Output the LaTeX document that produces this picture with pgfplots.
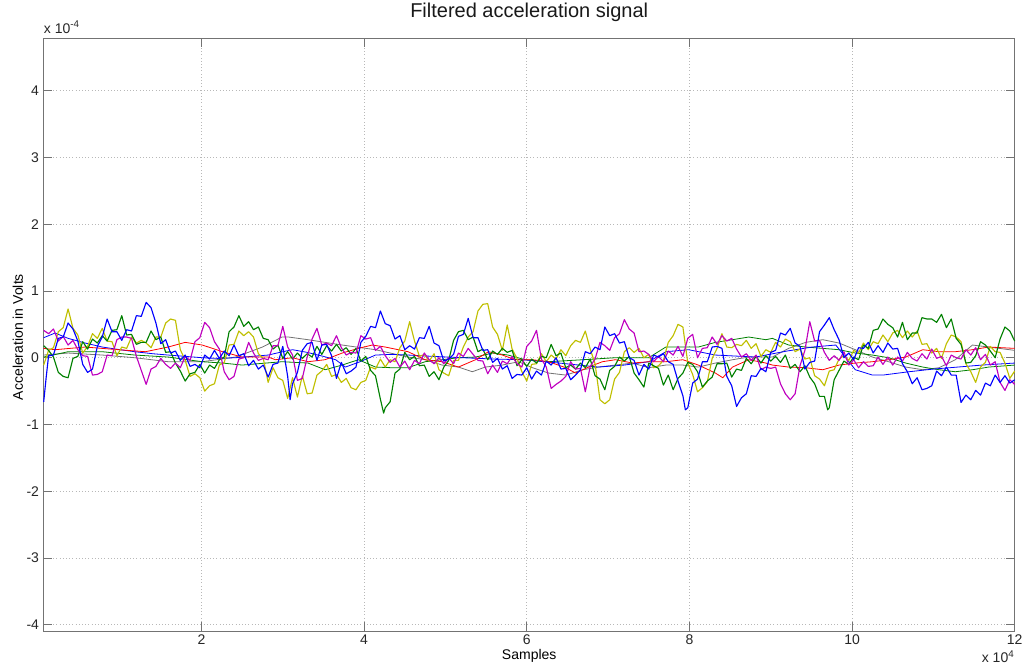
\documentclass[border=0pt]{standalone}
\usepackage{fontspec}
\setmainfont{Liberation Sans}
\usepackage{pgfplots}
\pgfplotsset{compat=1.18}

\definecolor{mblue}{rgb}{0,0,1}
\definecolor{mgreen}{rgb}{0,0.5,0}
\definecolor{mred}{rgb}{1,0,0}
\definecolor{mmag}{rgb}{0.75,0,0.75}
\definecolor{myel}{rgb}{0.75,0.75,0}
\definecolor{mgray}{rgb}{0.45,0.45,0.45}
\definecolor{axgray}{rgb}{0.45,0.45,0.45}

\newcommand{\tickfont}{\fontsize{10.5pt}{12pt}\selectfont}

\begin{document}
\begin{tikzpicture}[x=0.75pt,y=0.75pt]
\path[use as bounding box] (-43.7,-39) rectangle (978.3,631);
\begin{axis}[
  at={(0,0)}, anchor=south west,
  width=728.25pt, height=444.5pt, scale only axis,
  clip=false,
  xmin=0.06, xmax=12, ymin=-4.094, ymax=4.785,
  xtick={2,4,6,8,10,12}, ytick={-4,-3,-2,-1,0,1,2,3,4},
  /pgf/number format/assume math mode=true,
  ticklabel style={font=\tickfont, text=black!85},
  grid=major,
  major grid style={dotted, line width=0.5pt, black!28},
  axis line style={axgray, line width=0.6pt},
  tick style={axgray, line width=0.6pt},
  tick align=inside, major tick length=6.5pt,
  xticklabel style={yshift=1pt},
  title={Filtered acceleration signal},
  title style={at={(axis description cs:0.5,1.0208)}, anchor=base, font=\fontsize{15pt}{17pt}\selectfont, text=black!90},
  xlabel={Samples},
  xlabel style={at={(axis description cs:0.5,-0.0489)}, anchor=base, font=\tickfont},
  ylabel={Acceleration in Volts},
  ylabel style={at={(axis description cs:-0.0265,0.496)}, anchor=center, font=\tickfont},
  every axis plot/.append style={line width=0.85pt, line join=round},
  slow/.style={line width=0.6pt},
]

% slowly varying channels
\addplot[mgray, slow] coordinates {
(0.06,0.04)(0.36,0.07)(0.78,0.04)(1.18,0.00)(1.59,-0.06)(2.01,-0.06)(2.42,0.01)(2.75,0.16)(2.99,0.31)(3.07,0.31)
(3.31,0.27)(3.73,0.19)(4.14,0.12)(4.54,0.01)(4.75,-0.03)(4.96,-0.11)(5.16,-0.14)(5.33,-0.21)(5.49,-0.14)(5.70,-0.11)
(5.90,-0.06)(6.07,-0.15)(6.27,-0.23)(6.48,-0.26)(6.69,-0.18)(6.88,-0.14)(7.09,-0.11)(7.30,-0.08)(7.50,-0.15)(7.71,-0.11)
(7.92,-0.11)(8.11,-0.14)(8.32,-0.08)(8.53,-0.03)(8.73,0.01)(9.02,0.01)(9.22,0.14)(9.43,0.23)(9.64,0.27)(9.84,0.22)
(10.04,0.12)(10.25,0.01)(10.45,-0.06)(10.66,-0.14)(10.87,-0.18)(11.07,-0.15)(11.27,-0.03)(11.48,0.19)(11.68,0.16)(12.00,0.11)
};
\addplot[mgreen, slow] coordinates {
(0.06,0.01)(0.36,0.09)(0.78,0.09)(1.18,0.04)(1.59,0.01)(2.01,-0.06)(2.26,-0.08)(2.50,-0.11)(2.99,-0.06)(3.31,-0.08)
(3.52,-0.18)(3.73,-0.11)(3.93,-0.03)(4.14,-0.14)(4.34,-0.15)(4.54,-0.15)(4.75,-0.06)(4.96,-0.03)(5.16,0.00)(5.37,0.01)
(5.58,0.07)(5.77,0.04)(5.98,-0.03)(6.27,-0.06)(6.69,-0.03)(7.09,0.00)(7.50,0.00)(7.71,0.16)(7.92,0.16)(8.11,0.16)
(8.32,0.23)(8.53,0.27)(8.73,0.31)(8.94,0.27)(9.02,0.29)(9.22,0.19)(9.43,0.16)(9.64,0.14)(9.84,0.12)(10.04,0.07)
(10.25,0.04)(10.45,0.00)(10.66,-0.08)(10.87,-0.14)(11.07,-0.18)(11.27,-0.21)(11.48,-0.18)(11.68,-0.14)(12.00,-0.11)
};
\addplot[mblue, slow] coordinates {
(0.06,0.30)(0.20,0.37)(0.36,0.29)(0.57,0.22)(0.78,0.16)(1.00,0.12)(1.18,0.09)(1.40,0.06)(1.59,0.04)(1.80,0.02)
(2.01,0.00)(2.20,-0.01)(2.42,0.00)(2.62,0.02)(2.82,0.04)(3.00,0.09)(3.12,0.12)(3.30,0.08)(3.50,0.02)(3.65,-0.03)
(3.77,-0.14)(3.95,-0.06)(4.14,0.04)(4.35,0.05)(4.54,0.04)(4.85,0.02)(5.21,0.00)(5.60,-0.02)(5.95,-0.03)(6.40,-0.08)
(6.88,-0.14)(7.20,-0.11)(7.50,-0.06)(7.71,0.09)(7.99,0.12)(8.32,0.04)(8.81,0.01)(9.20,0.10)(9.51,0.16)(9.80,0.19)
(10.04,-0.18)(10.25,-0.26)(10.38,-0.26)(10.70,-0.21)(11.00,-0.17)(11.30,-0.14)(11.60,-0.11)(12.00,-0.08)
};
\addplot[mred, slow] coordinates {
(0.06,0.14)(0.20,0.12)(0.57,0.16)(0.98,0.12)(1.31,0.09)(1.59,0.16)(1.80,0.23)(2.01,0.19)(2.26,0.09)(2.50,0.01)
(2.82,0.01)(2.91,-0.03)(3.12,0.00)(3.31,-0.06)(3.52,-0.03)(3.73,0.07)(3.93,0.14)(4.10,0.19)(4.26,0.16)(4.42,0.12)
(4.54,0.09)(4.75,-0.03)(4.96,-0.06)(5.16,-0.14)(5.37,-0.03)(5.53,0.09)(5.70,0.04)(5.86,-0.03)(6.07,-0.03)(6.27,-0.06)
(6.48,-0.15)(6.60,-0.23)(6.76,-0.14)(6.93,-0.06)(7.09,-0.03)(7.30,-0.08)(7.50,-0.06)(7.71,-0.06)(7.92,-0.03)(8.11,-0.11)
(8.32,-0.23)(8.41,-0.30)(8.53,-0.14)(8.73,-0.03)(8.94,-0.08)(9.02,-0.11)(9.22,-0.14)(9.43,-0.15)(9.64,-0.18)(9.84,-0.11)
(10.04,-0.08)(10.25,-0.06)(10.45,-0.03)(10.66,0.01)(10.87,0.12)(11.07,0.09)(11.27,0.09)(11.48,0.12)(11.68,0.16)(12.00,0.14)
};

% fast channels
\addplot[myel] coordinates {
(0.06,-0.11)(0.12,0.11)(0.18,0.15)(0.24,0.39)(0.30,0.45)(0.36,0.73)(0.42,0.44)(0.48,0.34)(0.54,0.07)(0.60,0.17)
(0.66,0.36)(0.72,0.29)(0.78,0.44)(0.84,0.25)(0.90,0.24)(0.96,0.03)(1.02,0.16)(1.08,0.14)(1.14,0.31)(1.20,0.22)
(1.26,0.26)(1.32,0.22)(1.38,0.15)(1.44,0.31)(1.50,0.31)(1.56,0.52)(1.62,0.58)(1.68,0.56)(1.74,0.12)(1.80,-0.04)
(1.86,-0.28)(1.92,-0.24)(1.98,-0.30)(2.04,-0.50)(2.10,-0.42)(2.16,-0.39)(2.22,-0.11)(2.28,-0.07)(2.34,0.19)(2.40,0.20)
(2.46,0.40)(2.52,0.33)(2.58,0.39)(2.64,0.31)(2.70,0.06)(2.76,-0.01)(2.82,-0.37)(2.88,-0.15)(2.94,-0.30)(3.00,-0.34)
(3.06,-0.61)(3.12,-0.30)(3.18,-0.59)(3.24,-0.27)(3.30,-0.54)(3.36,-0.53)(3.42,-0.26)(3.48,-0.20)(3.54,-0.10)(3.60,-0.28)
(3.66,-0.25)(3.72,-0.37)(3.78,-0.31)(3.84,-0.45)(3.90,-0.48)(3.96,-0.37)(4.02,-0.34)(4.08,-0.14)(4.14,-0.17)(4.20,-0.02)
(4.26,-0.14)(4.32,-0.03)(4.38,-0.06)(4.44,0.15)(4.50,0.25)(4.56,0.54)(4.62,0.25)(4.68,0.02)(4.74,0.05)(4.80,-0.05)
(4.86,0.06)(4.92,-0.18)(4.98,-0.23)(5.04,-0.27)(5.10,-0.04)(5.16,-0.04)(5.22,0.16)(5.28,0.31)(5.34,0.39)(5.40,0.70)
(5.46,0.80)(5.52,0.81)(5.58,0.46)(5.64,0.35)(5.70,0.11)(5.76,0.49)(5.82,0.13)(5.88,-0.01)(5.94,-0.21)(6.00,-0.35)
(6.06,-0.10)(6.12,-0.09)(6.18,0.06)(6.24,-0.06)(6.30,0.04)(6.36,-0.02)(6.42,0.12)(6.48,0.03)(6.54,0.18)(6.60,0.26)
(6.66,0.23)(6.72,0.40)(6.78,0.13)(6.84,-0.09)(6.90,-0.63)(6.96,-0.69)(7.02,-0.63)(7.08,-0.32)(7.14,-0.22)(7.20,0.09)
(7.26,0.15)(7.32,0.08)(7.38,0.14)(7.44,0.00)(7.50,0.05)(7.56,-0.15)(7.62,-0.12)(7.68,-0.04)(7.74,0.23)(7.80,0.33)
(7.86,0.50)(7.92,0.46)(7.98,-0.08)(8.04,-0.25)(8.10,-0.51)(8.16,-0.45)(8.22,-0.36)(8.28,-0.01)(8.34,0.14)(8.40,0.36)
(8.46,0.16)(8.52,0.15)(8.58,0.20)(8.64,0.18)(8.70,0.26)(8.76,0.14)(8.82,0.21)(8.88,0.02)(8.94,0.12)(9.00,0.08)
(9.06,0.23)(9.12,0.16)(9.18,0.28)(9.24,0.24)(9.30,0.09)(9.36,0.13)(9.42,-0.02)(9.48,0.00)(9.54,-0.27)(9.60,-0.32)
(9.66,-0.42)(9.72,-0.20)(9.78,-0.18)(9.84,-0.02)(9.90,0.03)(9.96,-0.04)(10.02,0.11)(10.08,0.07)(10.14,0.22)(10.20,0.12)
(10.26,0.24)(10.32,0.21)(10.38,0.34)(10.44,0.24)(10.50,0.37)(10.56,0.41)(10.62,0.30)(10.68,0.40)(10.74,0.31)(10.80,0.40)
(10.86,0.20)(10.92,0.21)(10.98,0.07)(11.04,0.14)(11.10,-0.01)(11.16,0.21)(11.22,0.34)(11.28,0.31)(11.34,0.24)(11.40,-0.09)
(11.46,-0.21)(11.52,-0.37)(11.58,-0.14)(11.64,-0.07)(11.70,0.17)(11.76,0.09)(11.82,0.08)(11.88,-0.08)(11.94,-0.31)(12.00,-0.20)
};
\addplot[mgreen] coordinates {
(0.06,0.18)(0.12,0.11)(0.18,0.01)(0.24,-0.22)(0.30,-0.28)(0.36,-0.30)(0.42,-0.01)(0.48,0.02)(0.54,0.24)(0.60,0.13)
(0.66,0.28)(0.72,0.22)(0.78,0.33)(0.84,0.25)(0.90,0.41)(0.96,0.42)(1.02,0.63)(1.08,0.34)(1.14,0.35)(1.20,0.20)
(1.26,0.23)(1.32,0.23)(1.38,0.40)(1.44,0.27)(1.50,0.31)(1.56,0.08)(1.62,0.09)(1.68,-0.08)(1.74,-0.20)(1.80,-0.35)
(1.86,-0.24)(1.92,-0.22)(1.98,-0.10)(2.04,-0.23)(2.10,-0.11)(2.16,-0.16)(2.22,-0.03)(2.28,0.01)(2.34,0.39)(2.40,0.46)
(2.46,0.63)(2.52,0.47)(2.58,0.54)(2.64,0.42)(2.70,0.46)(2.76,0.29)(2.82,0.27)(2.88,0.13)(2.94,0.19)(3.00,-0.01)
(3.06,0.09)(3.12,-0.02)(3.18,0.07)(3.24,-0.01)(3.30,0.06)(3.36,0.01)(3.42,0.17)(3.48,0.05)(3.54,0.18)(3.60,0.10)
(3.66,0.20)(3.72,0.10)(3.78,0.15)(3.84,0.05)(3.90,0.14)(3.96,-0.05)(4.02,0.02)(4.08,-0.19)(4.14,-0.27)(4.20,-0.62)
(4.24,-0.83)(4.26,-0.75)(4.32,-0.66)(4.38,-0.23)(4.44,-0.17)(4.50,0.08)(4.56,-0.03)(4.62,0.02)(4.68,-0.12)(4.74,-0.11)
(4.80,-0.28)(4.86,-0.21)(4.92,-0.33)(4.98,-0.14)(5.04,-0.04)(5.10,0.26)(5.16,0.39)(5.22,0.41)(5.28,0.27)(5.34,0.31)
(5.40,0.09)(5.46,0.13)(5.52,-0.03)(5.58,0.10)(5.64,0.05)(5.70,0.14)(5.76,0.08)(5.82,0.11)(5.88,-0.12)(5.94,-0.03)
(6.00,-0.13)(6.06,-0.02)(6.12,-0.08)(6.18,0.02)(6.24,0.00)(6.30,0.20)(6.36,0.03)(6.42,0.07)(6.48,-0.15)(6.54,-0.11)
(6.60,-0.17)(6.66,-0.08)(6.72,-0.15)(6.78,-0.02)(6.84,-0.27)(6.90,-0.32)(6.96,-0.48)(7.02,-0.19)(7.08,-0.13)(7.14,0.01)
(7.20,-0.05)(7.26,0.02)(7.32,-0.23)(7.38,-0.33)(7.44,-0.44)(7.50,-0.08)(7.56,-0.12)(7.62,-0.16)(7.68,-0.41)(7.74,-0.26)
(7.80,-0.48)(7.86,-0.31)(7.92,-0.23)(7.98,-0.07)(8.04,-0.10)(8.10,-0.21)(8.16,-0.44)(8.22,-0.35)(8.28,-0.29)(8.34,-0.09)
(8.40,-0.09)(8.46,-0.08)(8.52,-0.29)(8.58,-0.17)(8.64,-0.19)(8.70,-0.01)(8.76,-0.09)(8.82,0.02)(8.88,-0.08)(8.94,0.03)
(9.00,-0.05)(9.06,0.02)(9.12,-0.07)(9.18,0.04)(9.24,-0.16)(9.30,-0.10)(9.36,-0.21)(9.42,-0.12)(9.48,-0.29)(9.54,-0.39)
(9.60,-0.58)(9.66,-0.58)(9.70,-0.78)(9.72,-0.75)(9.78,-0.33)(9.84,-0.19)(9.90,-0.05)(9.96,-0.10)(10.02,0.01)(10.08,-0.03)
(10.14,0.19)(10.20,0.14)(10.26,0.41)(10.32,0.43)(10.38,0.58)(10.44,0.50)(10.50,0.45)(10.56,0.31)(10.62,0.53)(10.68,0.27)
(10.74,0.37)(10.80,0.37)(10.86,0.60)(10.92,0.58)(10.98,0.58)(11.04,0.53)(11.10,0.65)(11.16,0.45)(11.22,0.58)(11.28,0.29)
(11.34,0.20)(11.40,-0.08)(11.46,-0.07)(11.52,0.03)(11.58,0.24)(11.64,0.19)(11.70,0.10)(11.76,0.00)(11.82,0.28)(11.88,0.46)
(11.94,0.40)(12.00,0.25)
};
\addplot[mmag] coordinates {
(0.06,0.41)(0.12,0.36)(0.18,0.43)(0.24,0.25)(0.30,0.32)(0.36,0.19)(0.42,0.26)(0.48,0.12)(0.54,0.03)(0.60,0.02)
(0.66,-0.26)(0.72,-0.25)(0.78,-0.21)(0.84,0.04)(0.90,0.03)(0.96,0.27)(1.02,0.31)(1.08,0.31)(1.14,0.29)(1.20,0.02)
(1.26,-0.19)(1.32,-0.40)(1.38,-0.17)(1.44,-0.13)(1.50,-0.01)(1.56,-0.10)(1.62,-0.16)(1.68,-0.08)(1.74,-0.15)(1.80,0.02)
(1.86,-0.04)(1.92,0.24)(1.98,0.30)(2.04,0.53)(2.10,0.45)(2.16,0.24)(2.22,0.13)(2.28,-0.21)(2.34,-0.33)(2.40,-0.28)
(2.46,-0.02)(2.52,0.00)(2.58,0.23)(2.64,0.07)(2.70,-0.04)(2.76,-0.01)(2.82,-0.03)(2.88,0.18)(2.94,0.18)(3.00,0.47)
(3.06,0.16)(3.12,0.04)(3.18,-0.34)(3.24,-0.31)(3.30,0.01)(3.36,0.28)(3.42,0.44)(3.48,0.19)(3.54,0.22)(3.60,0.18)
(3.66,0.33)(3.72,0.15)(3.78,0.04)(3.84,0.08)(3.90,0.07)(3.96,0.33)(4.02,0.28)(4.08,0.30)(4.14,0.11)(4.20,0.17)
(4.26,0.03)(4.32,-0.07)(4.38,-0.01)(4.44,-0.14)(4.50,-0.05)(4.56,-0.18)(4.62,-0.04)(4.68,-0.09)(4.74,0.07)(4.80,-0.03)
(4.86,-0.09)(4.92,0.00)(4.98,-0.09)(5.04,0.00)(5.10,-0.09)(5.16,0.07)(5.22,0.02)(5.28,0.14)(5.34,0.05)(5.40,-0.04)
(5.46,-0.05)(5.52,-0.24)(5.58,-0.11)(5.64,-0.22)(5.70,-0.05)(5.76,-0.09)(5.82,0.02)(5.88,-0.09)(5.94,-0.14)(6.00,0.17)
(6.06,0.25)(6.12,0.41)(6.18,-0.02)(6.24,-0.14)(6.30,-0.46)(6.36,-0.40)(6.42,-0.35)(6.48,-0.28)(6.54,-0.06)(6.60,-0.17)
(6.66,-0.16)(6.72,-0.51)(6.78,-0.13)(6.84,-0.02)(6.90,0.23)(6.96,0.18)(7.02,0.11)(7.08,0.30)(7.14,0.36)(7.20,0.57)
(7.26,0.43)(7.32,0.37)(7.38,0.09)(7.44,0.10)(7.50,0.05)(7.56,-0.06)(7.62,0.02)(7.68,-0.06)(7.74,0.10)(7.80,0.04)
(7.86,0.17)(7.92,0.02)(7.98,0.29)(8.04,0.35)(8.10,0.00)(8.16,0.14)(8.22,0.15)(8.28,0.31)(8.34,0.20)(8.40,0.33)
(8.46,0.25)(8.52,0.29)(8.58,0.13)(8.64,0.01)(8.70,0.06)(8.76,-0.04)(8.82,0.04)(8.88,-0.18)(8.94,-0.14)(9.00,-0.16)
(9.06,-0.14)(9.12,-0.39)(9.18,-0.54)(9.24,-0.63)(9.30,-0.54)(9.36,-0.12)(9.42,0.11)(9.48,0.54)(9.54,0.25)(9.60,0.26)
(9.66,0.08)(9.72,-0.04)(9.78,0.03)(9.84,-0.04)(9.90,0.09)(9.96,-0.11)(10.02,-0.03)(10.08,-0.15)(10.14,-0.06)(10.20,-0.13)
(10.26,-0.12)(10.32,0.01)(10.38,-0.10)(10.44,0.01)(10.50,-0.11)(10.56,0.01)(10.62,-0.05)(10.68,0.08)(10.74,-0.01)(10.80,-0.05)
(10.86,0.06)(10.92,-0.02)(10.98,0.13)(11.04,-0.01)(11.10,0.02)(11.16,-0.12)(11.22,0.04)(11.28,0.00)(11.34,-0.02)(11.40,0.12)
(11.46,0.04)(11.52,0.15)(11.58,-0.03)(11.64,0.05)(11.70,-0.11)(11.76,-0.06)(11.82,-0.37)(11.88,-0.49)(11.94,-0.33)(12.00,-0.40)
};
\addplot[mblue] coordinates {
(0.06,-0.66)(0.09,-0.30)(0.12,0.03)(0.18,0.04)(0.24,0.29)(0.30,0.31)(0.36,0.52)(0.42,0.43)(0.48,0.25)(0.54,-0.10)(0.60,-0.22)
(0.66,-0.17)(0.72,0.17)(0.78,0.31)(0.84,0.58)(0.90,0.39)(0.96,0.39)(1.02,0.26)(1.08,0.42)(1.14,0.40)(1.20,0.63)
(1.26,0.62)(1.32,0.83)(1.38,0.75)(1.44,0.52)(1.50,0.21)(1.56,0.27)(1.62,0.07)(1.68,0.10)(1.74,-0.04)(1.80,0.04)
(1.86,-0.13)(1.92,-0.10)(1.98,-0.15)(2.04,0.04)(2.10,-0.02)(2.16,0.11)(2.22,-0.01)(2.28,0.10)(2.34,0.03)(2.40,0.19)
(2.46,0.03)(2.52,0.06)(2.58,-0.12)(2.64,-0.04)(2.70,-0.17)(2.76,-0.11)(2.82,-0.29)(2.88,-0.10)(2.94,-0.08)(3.00,0.17)
(3.06,-0.28)(3.09,-0.63)(3.12,-0.39)(3.18,-0.22)(3.24,0.11)(3.30,0.21)(3.36,0.23)(3.42,-0.04)(3.48,0.19)(3.54,0.20)
(3.60,0.03)(3.66,-0.31)(3.72,-0.07)(3.78,-0.24)(3.84,-0.20)(3.90,-0.14)(3.96,0.23)(4.02,0.32)(4.08,0.47)(4.14,0.45)
(4.20,0.70)(4.26,0.51)(4.32,0.48)(4.38,0.28)(4.44,0.33)(4.50,0.12)(4.56,0.18)(4.62,0.13)(4.68,0.30)(4.74,0.29)
(4.80,0.47)(4.86,0.22)(4.92,0.18)(4.98,-0.05)(5.04,-0.02)(5.10,0.05)(5.16,0.32)(5.22,0.35)(5.28,0.59)(5.34,0.30)
(5.40,0.30)(5.46,0.11)(5.52,0.12)(5.58,-0.07)(5.64,-0.01)(5.70,-0.17)(5.76,-0.12)(5.82,-0.31)(5.88,-0.25)(5.94,-0.26)
(6.00,-0.15)(6.06,-0.32)(6.12,-0.20)(6.18,-0.26)(6.24,-0.05)(6.30,-0.11)(6.36,0.00)(6.42,-0.17)(6.48,-0.16)(6.54,-0.33)
(6.60,-0.26)(6.66,-0.18)(6.72,0.09)(6.78,0.06)(6.84,0.16)(6.90,0.12)(6.96,0.46)(7.02,0.33)(7.08,0.36)(7.14,0.22)
(7.20,0.24)(7.26,0.00)(7.32,-0.04)(7.38,-0.26)(7.44,-0.10)(7.50,-0.17)(7.56,0.04)(7.62,0.01)(7.68,0.06)(7.74,-0.06)
(7.80,-0.10)(7.86,-0.35)(7.92,-0.57)(7.95,-0.78)(7.98,-0.75)(8.04,-0.38)(8.10,-0.32)(8.16,-0.06)(8.22,-0.06)(8.28,0.16)
(8.34,0.17)(8.40,0.14)(8.46,-0.28)(8.52,-0.42)(8.58,-0.73)(8.64,-0.60)(8.70,-0.54)(8.76,-0.27)(8.82,-0.28)(8.88,-0.16)
(8.94,-0.21)(9.00,0.08)(9.06,0.11)(9.12,0.37)(9.18,0.34)(9.24,0.44)(9.30,0.22)(9.36,0.17)(9.42,-0.17)(9.48,-0.07)
(9.54,-0.05)(9.60,0.39)(9.66,0.49)(9.72,0.60)(9.78,0.42)(9.84,0.27)(9.90,0.00)(9.96,0.07)(10.02,-0.03)(10.08,0.15)
(10.14,0.14)(10.20,0.23)(10.26,0.07)(10.32,0.18)(10.38,0.08)(10.44,0.22)(10.50,0.13)(10.56,0.14)(10.62,-0.09)(10.68,-0.21)
(10.74,-0.39)(10.80,-0.30)(10.86,-0.48)(10.92,-0.46)(10.98,-0.42)(11.04,-0.20)(11.10,-0.27)(11.16,-0.14)(11.22,-0.26)(11.28,-0.26)
(11.34,-0.67)(11.40,-0.56)(11.46,-0.63)(11.52,-0.49)(11.58,-0.56)(11.64,-0.38)(11.70,-0.42)(11.76,-0.26)(11.82,-0.37)(11.88,-0.27)
(11.94,-0.38)(12.00,-0.33)
};

% axis multipliers
\node[anchor=base west, font=\tickfont, text=black!85, inner sep=0pt]
  at (axis description cs:0,1.0089) {x 10\textsuperscript{-4}};
\node[anchor=base east, font=\tickfont, text=black!85, inner sep=0pt]
  at (axis description cs:1,-0.054) {x 10\textsuperscript{4}};
\end{axis}
\end{tikzpicture}
\end{document}
